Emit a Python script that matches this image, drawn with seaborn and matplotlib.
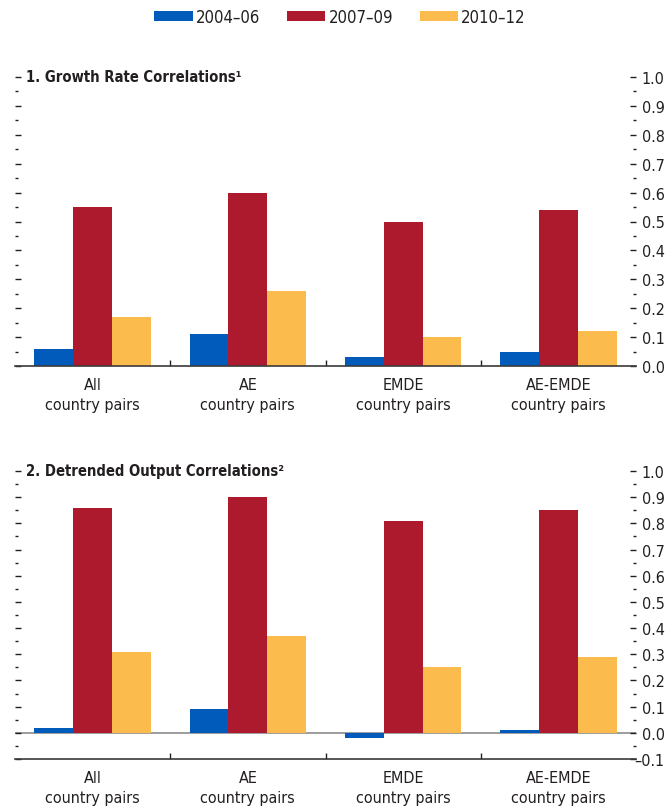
import matplotlib
matplotlib.use("Agg")
import matplotlib.pyplot as plt
import matplotlib.ticker as mticker
import matplotlib.transforms as mtransforms
import numpy as np
import seaborn as sns
import pandas as pd

# ---- data ----
groups = ["All\ncountry pairs", "AE\ncountry pairs", "EMDE\ncountry pairs", "AE-EMDE\ncountry pairs"]
periods = ["2004–06", "2007–09", "2010–12"]

growth_0406 = [0.06, 0.11, 0.03, 0.05]
growth_0709 = [0.55, 0.60, 0.50, 0.54]
growth_1012 = [0.17, 0.26, 0.10, 0.12]

detr_0406 = [0.02, 0.09, -0.02, 0.01]
detr_0709 = [0.86, 0.90, 0.81, 0.85]
detr_1012 = [0.31, 0.37, 0.25, 0.29]

titles = ["1. Growth Rate Correlations¹", "2. Detrended Output Correlations²"]
colors = ["#005BBB", "#AD192D", "#FCBB4D"]


def long_df(a, b, c):
    rows = []
    for series, p in zip([a, b, c], periods):
        for g, v in zip(groups, series):
            rows.append({"group": g, "period": p, "value": v})
    return pd.DataFrame(rows)


df1 = long_df(growth_0406, growth_0709, growth_1012)
df2 = long_df(detr_0406, detr_0709, detr_1012)

sns.set_style("white")
FONT = ["DejaVu Sans"]
plt.rcParams["font.family"] = FONT
plt.rcParams["font.stretch"] = "condensed"
TXT = "#231F20"
plt.rcParams["text.color"] = TXT
plt.rcParams["xtick.color"] = TXT
plt.rcParams["ytick.color"] = TXT

fig = plt.figure(figsize=(6.67, 8.12), dpi=100)
W, H = 667.0, 812.0
left = 15 / W
width = (636 - 15) / W
ax1 = fig.add_axes([left, 1 - 367 / H, width, (367 - 78) / H])
ax2 = fig.add_axes([left, 1 - 760 / H, width, (760 - 472) / H])


def fmt(v, pos):
    s = f"{v:.1f}"
    if s == "-0.0":
        s = "0.0"
    return s.replace("-", "–")


for ax, df, title, ylim in [(ax1, df1, titles[0], (0, 1.0)), (ax2, df2, titles[1], (-0.1, 1.0))]:
    sns.barplot(data=df, x="group", y="value", hue="period", palette=colors,
                saturation=1, width=0.75, ax=ax, legend=False, errorbar=None,
                linewidth=0, edgecolor="none")
    ax.set_ylim(*ylim)
    ax.set_xlim(-0.5, 3.5)
    ax.set_xlabel("")
    ax.set_ylabel("")
    for s in ["top", "left", "right"]:
        ax.spines[s].set_visible(False)
    ax.spines["bottom"].set_color("#3a3a3a")
    ax.spines["bottom"].set_linewidth(1.2)
    ax.yaxis.set_major_locator(mticker.FixedLocator(np.round(np.arange(ylim[0], 1.0001, 0.1), 2)))
    ax.yaxis.set_minor_locator(mticker.MultipleLocator(0.05))
    ax.yaxis.set_major_formatter(mticker.FuncFormatter(fmt))
    ax.tick_params(axis="y", which="both", left=True, right=True, labelleft=False,
                   labelright=True, direction="in", labelsize=11.5, pad=4, color=TXT)
    ax.tick_params(axis="y", which="major", length=4.5, width=1.0)
    ax.tick_params(axis="y", which="minor", length=2.2, width=1.0)
    ax.xaxis.set_minor_locator(mticker.FixedLocator([0.5, 1.5, 2.5]))
    ax.tick_params(axis="x", which="major", length=0, labelsize=11.5, pad=8)
    ax.tick_params(axis="x", which="minor", bottom=True, direction="in", length=4.5,
                   width=1.0, color=TXT)
    for lab in ax.get_xticklabels():
        lab.set_linespacing(1.4)
    ax.text(0.018, 1.0, title, transform=ax.transAxes, ha="left", va="center",
            fontsize=10.6, fontweight="bold")
    ax.grid(False)

ax2.axhline(0, color="#8c8c8c", lw=1.2, zorder=0.5)

# shift the negative tick label slightly left so it stays inside the figure
neg_tick = ax2.yaxis.get_major_ticks()[0]
neg_tick.label2.set_transform(neg_tick.label2.get_transform() +
                              mtransforms.ScaledTranslation(-7 / 100, 0, fig.dpi_scale_trans))

handles = [matplotlib.patches.Patch(facecolor=c, edgecolor="none") for c in colors]
fig.legend(handles, periods, loc="center", bbox_to_anchor=(340 / W, 1 - 18 / H),
           ncol=3, frameon=False, fontsize=12, handlelength=2.3, handleheight=0.5,
           handletextpad=0.2, columnspacing=1.6)

fig.savefig("out.png", dpi=100)
